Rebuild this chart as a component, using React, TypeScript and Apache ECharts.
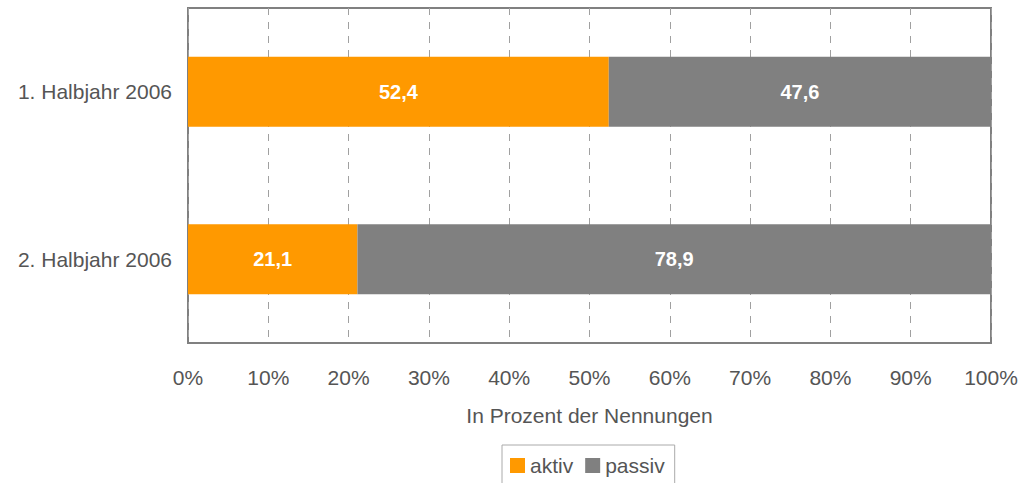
import React, { useEffect, useRef } from "react";
import * as echarts from "echarts";

const categories = ["1. Halbjahr 2006", "2. Halbjahr 2006"];
const aktiv = [52.4, 21.1];
const passiv = [47.6, 78.9];
const seriesNames = ["aktiv", "passiv"];
const axisTitle = "In Prozent der Nennungen";

const FONT = "Liberation Sans, Arial, sans-serif";

export default function App() {
  const ref = useRef<HTMLDivElement>(null);
  useEffect(() => {
    if (!ref.current) return;
    const chart = echarts.init(ref.current, null, { renderer: "svg" });
    const labelFmt = (p: any) => String(p.value).replace(".", ",");
    chart.setOption({
      animation: false,
      textStyle: { fontFamily: FONT },
      grid: { left: 188, right: 31, top: 8, bottom: 140, containLabel: false, show: true, borderColor: "#808080", borderWidth: 2, backgroundColor: "#fff" },
      legend: {
        top: 445,
        left: 502,
        itemWidth: 15,
        itemHeight: 15,
        itemGap: 12,
        icon: "rect",
        borderColor: "#aaaaaa",
        borderWidth: 1,
        padding: [10, 10, 14, 8],
        textStyle: { fontFamily: FONT, fontSize: 21, color: "#555555" },
        data: seriesNames,
      },
      xAxis: {
        type: "value",
        min: 0,
        max: 100,
        interval: 10,
        axisLine: { show: false },
        axisTick: { show: false },
        splitLine: { show: true, lineStyle: { type: [7, 7], color: "#a0a0a0", width: 1 } },
        axisLabel: { formatter: "{value}%", fontFamily: FONT, fontSize: 21, color: "#555555", margin: 24 },
        name: axisTitle,
        nameLocation: "middle",
        nameGap: 62,
        nameTextStyle: { fontFamily: FONT, fontSize: 21, color: "#555555" },
      },
      yAxis: {
        type: "category",
        inverse: true,
        data: categories,
        axisLine: { show: false },
        axisTick: { show: false },
        axisLabel: { fontFamily: FONT, fontSize: 21, color: "#555555", margin: 16 },
      },
      series: [
        {
          name: seriesNames[0],
          type: "bar",
          stack: "total",
          data: aktiv,
          barWidth: 70,
          itemStyle: { color: "#FF9900" },
          label: { show: true, position: "inside", formatter: labelFmt, color: "#fff", fontWeight: "bold", fontSize: 20, fontFamily: FONT },
        },
        {
          name: seriesNames[1],
          type: "bar",
          stack: "total",
          data: passiv,
          barWidth: 70,
          itemStyle: { color: "#808080" },
          label: { show: true, position: "inside", formatter: labelFmt, color: "#fff", fontWeight: "bold", fontSize: 20, fontFamily: FONT },
        },
      ],
    });
    return () => chart.dispose();
  }, []);
  return <div ref={ref} style={{ width: 1022, height: 483, position: "absolute", left: 0, top: 0 }} />;
}
